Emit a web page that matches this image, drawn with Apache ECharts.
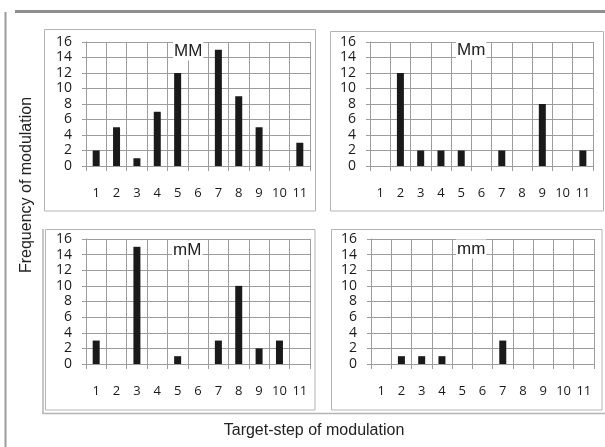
<!DOCTYPE html>
<html>
<head>
<meta charset="utf-8">
<script src="https://cdn.jsdelivr.net/npm/echarts@6/dist/echarts.min.js"></script>
<style>
html,body{margin:0;padding:0;background:#fff;}
#chart{width:605px;height:447px;}
</style>
</head>
<body>
<div id="chart"></div>
<script>
const categories = ['1','2','3','4','5','6','7','8','9','10','11'];
const yTicks = {min: 0, max: 16, interval: 2};
const panelNames = ['MM', 'Mm', 'mM', 'mm'];
const valuesMM = [2, 5, 1, 7, 12, 0, 15, 9, 5, 0, 3];
const valuesMm = [0, 12, 2, 2, 2, 0, 2, 0, 8, 0, 2];
const valuesmM = [3, 0, 15, 0, 1, 0, 3, 10, 2, 3, 0];
const valuesmm = [0, 1, 1, 1, 0, 0, 3, 0, 0, 0, 0];
const xTitle = 'Target-step of modulation';
const yTitle = 'Frequency of modulation';

const panelValues = [valuesMM, valuesMm, valuesmM, valuesmm];
const grids = [
  {left: 86, top: 42, width: 224, height: 124},
  {left: 370, top: 42, width: 223, height: 124},
  {left: 86, top: 239, width: 224, height: 125},
  {left: 371, top: 239, width: 223, height: 125}
];
const titlePos = [[173, 51], [456, 50.5], [172, 250], [456, 249]];
const gridColor = '#9c9c9c';
const labelFont = 'Open Sans';

const chart = echarts.init(document.getElementById('chart'), null, {renderer: 'canvas'});

const xAxes = grids.map((g, i) => ({
  type: 'category', gridIndex: i, data: categories, boundaryGap: true,
  axisLine: {show: true, lineStyle: {color: gridColor, width: 1}},
  axisTick: {show: true, length: 5, interval: 0, lineStyle: {color: gridColor}},
  splitLine: {show: true, interval: 0, lineStyle: {color: gridColor, width: 1}},
  axisLabel: {interval: 0, margin: 21, fontSize: 13, color: '#1a1a1a', fontFamily: labelFont}
}));
const yAxes = grids.map((g, i) => ({
  type: 'value', gridIndex: i, min: yTicks.min, max: yTicks.max, interval: yTicks.interval,
  axisLine: {show: true, lineStyle: {color: gridColor, width: 1}},
  axisTick: {show: true, length: 4, lineStyle: {color: gridColor}},
  splitLine: {show: true, lineStyle: {color: gridColor, width: 1}},
  axisLabel: {margin: 14, fontSize: 14, color: '#1a1a1a', fontFamily: labelFont}
}));
const series = panelValues.map((vals, i) => ({
  type: 'bar', xAxisIndex: i, yAxisIndex: i, data: vals, barWidth: 7,
  itemStyle: {color: '#1a1a1a'}, silent: true, animation: false
}));

const graphic = [
  {type: 'line', shape: {x1: 15, y1: 11.5, x2: 605, y2: 11.5}, style: {stroke: '#8f8f8f', lineWidth: 3}},
  {type: 'line', shape: {x1: 5.5, y1: 12, x2: 5.5, y2: 447}, style: {stroke: '#9a9a9a', lineWidth: 2}},
  {type: 'rect', shape: {x: 44.5, y: 29.5, width: 271, height: 181.5}, style: {fill: 'none', stroke: '#b4b4b4', lineWidth: 1}},
  {type: 'rect', shape: {x: 330.5, y: 31.5, width: 273, height: 179.5}, style: {fill: 'none', stroke: '#b4b4b4', lineWidth: 1}},
  {type: 'rect', shape: {x: 45.5, y: 229.5, width: 269.5, height: 180.5}, style: {fill: 'none', stroke: '#b4b4b4', lineWidth: 1}},
  {type: 'rect', shape: {x: 331.5, y: 229.5, width: 270.5, height: 180.5}, style: {fill: 'none', stroke: '#b4b4b4', lineWidth: 1}},
  {type: 'polyline', shape: {points: [[43, 229], [43, 413.5], [605, 413.5]]}, style: {fill: 'none', stroke: '#b4b4b4', lineWidth: 1.5}},
  {type: 'text', x: 314, y: 431, style: {text: xTitle, fontSize: 16, fontFamily: 'Liberation Sans', fill: '#222', align: 'center', verticalAlign: 'middle'}},
  {type: 'text', x: 27, y: 185, rotation: Math.PI / 2, style: {text: yTitle, fontSize: 16, fontFamily: 'Liberation Sans', fill: '#222', align: 'center', verticalAlign: 'middle'}}
];
panelNames.forEach((name, i) => {
  graphic.push({
    type: 'text', x: titlePos[i][0], y: titlePos[i][1], z: 100,
    style: {text: name, fontSize: 17, fontFamily: 'Liberation Sans', fill: '#222', align: 'left', verticalAlign: 'middle',
      backgroundColor: '#fff', padding: [1, 1]}
  });
});

chart.setOption({
  animation: false,
  backgroundColor: '#fff',
  grid: grids,
  xAxis: xAxes,
  yAxis: yAxes,
  series: series,
  graphic: graphic
});
</script>
</body>
</html>
